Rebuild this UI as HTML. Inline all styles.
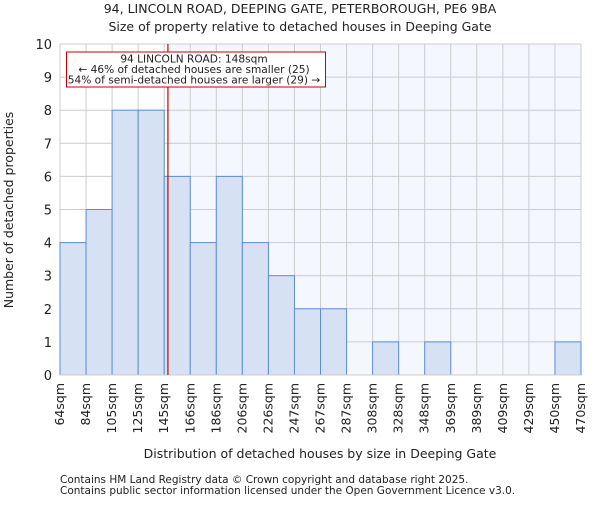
<!DOCTYPE html>
<html><head><meta charset="utf-8"><style>
body{margin:0;background:#fff}
text{font-family:"DejaVu Sans","Liberation Sans",sans-serif;fill:#222}
</style></head><body>
<svg id="chart" width="600" height="500" viewBox="0 0 600 500" xmlns="http://www.w3.org/2000/svg">
<text x="300" y="13" text-anchor="middle" font-size="12.5">94, LINCOLN ROAD, DEEPING GATE, PETERBOROUGH, PE6 9BA</text>
<text x="300" y="31" text-anchor="middle" font-size="12.5">Size of property relative to detached houses in Deeping Gate</text>
<g id="plot"></g>
<text x="320" y="458" text-anchor="middle" font-size="12.5">Distribution of detached houses by size in Deeping Gate</text>
<text transform="translate(13,210) rotate(-90)" text-anchor="middle" font-size="12.5">Number of detached properties</text>
<text x="60" y="483" font-size="10.5" fill="#444">Contains HM Land Registry data © Crown copyright and database right 2025.</text>
<text x="60" y="494" font-size="10.5" fill="#444">Contains public sector information licensed under the Open Government Licence v3.0.</text>
</svg>
<script>
const categories=["64sqm","84sqm","105sqm","125sqm","145sqm","166sqm","186sqm","206sqm","226sqm","247sqm","267sqm","287sqm","308sqm","328sqm","348sqm","369sqm","389sqm","409sqm","429sqm","450sqm","470sqm"];
const binStarts=[64,84,105,125,145,166,186,206,226,247,267,287,308,328,348,369,389,409,429,450,470];
const counts=[4,5,8,8,6,4,6,4,3,2,2,0,1,0,1,0,0,0,0,1];
const yTicks=[0,1,2,3,4,5,6,7,8,9,10];
const propertySize=148;
const NS="http://www.w3.org/2000/svg";
const L=60,R=581,T=44,B=375,yMax=10;
const n=counts.length,bw=(R-L)/n;
const x=i=>L+i*bw;
const y=v=>B-(v/yMax)*(B-T);
function sizeX(s){for(let i=0;i<n;i++){if(s>=binStarts[i]&&s<binStarts[i+1])return x(i)+(s-binStarts[i])/(binStarts[i+1]-binStarts[i])*bw;}return R;}
const g=document.getElementById('plot');
function mk(t,a){const e=document.createElementNS(NS,t);for(const k in a)e.setAttribute(k,a[k]);g.appendChild(e);return e;}
const px=sizeX(propertySize);
const shade=mk('rect',{x:px,y:T,width:R-px,height:B-T,fill:'#f4f7fd'});


yTicks.forEach(v=>{
 const gl=mk('line',{x1:L,x2:R,y1:y(v),y2:y(v),stroke:'#cccccc','stroke-width':1});
 
 
 const t=mk('text',{x:L-8,y:y(v)+5,'text-anchor':'end','font-size':13});
 t.textContent=v;
 
 
});
categories.forEach((c,i)=>{
 const gl=mk('line',{x1:x(i),x2:x(i),y1:T,y2:B,stroke:'#cccccc','stroke-width':1});
 
 
 const t=mk('text',{transform:`translate(${x(i)+4},${B+8}) rotate(-90)`,'text-anchor':'end','font-size':12.5});
 t.textContent=c;
 
 
});
counts.forEach((v,i)=>{
 if(v<=0)return;
 const r=mk('rect',{x:x(i),y:y(v),width:bw,height:B-y(v),fill:'#d6e2f3',stroke:'#5a8fd8','stroke-width':1});
 
 
});
const ax=mk('line',{x1:L,x2:R,y1:B,y2:B,stroke:'#cccccc'});


const ml=mk('line',{x1:px,x2:px,y1:T,y2:B,stroke:'#cc0000','stroke-width':1.2});


const box=mk('rect',{x:66.5,y:52,width:259,height:35,fill:'#fff',stroke:'#cc0000','stroke-width':1});


const lines=["94 LINCOLN ROAD: 148sqm","← 46% of detached houses are smaller (25)","54% of semi-detached houses are larger (29) →"];
lines.forEach((s,i)=>{
 const t=mk('text',{x:194,y:62.5+i*10.5,'text-anchor':'middle','font-size':10.6});
 t.textContent=s;
 
 
});
</script>
</body></html>
